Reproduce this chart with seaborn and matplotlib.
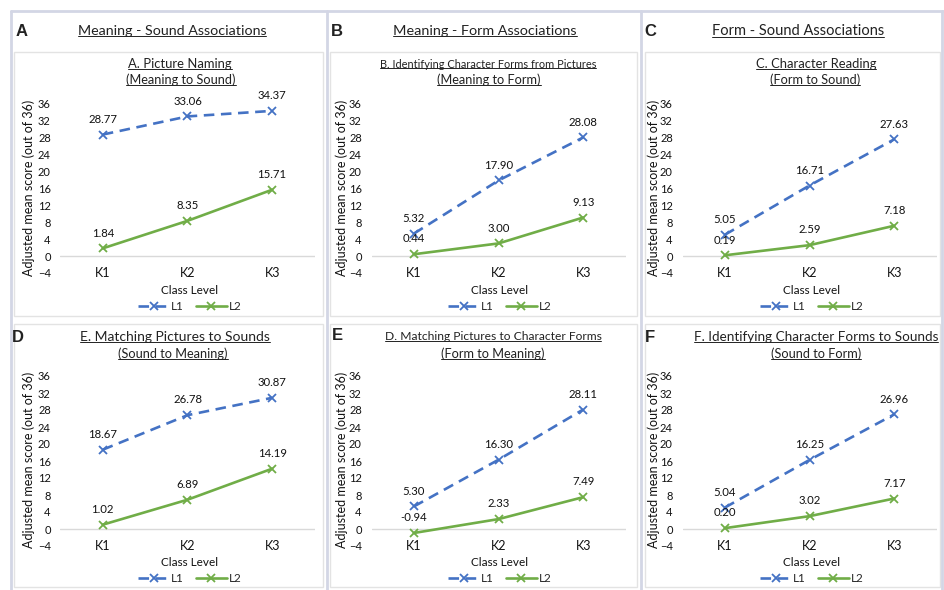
import matplotlib
matplotlib.use('Agg')
import matplotlib.pyplot as plt
from matplotlib.lines import Line2D
from matplotlib.patches import Rectangle
import pandas as pd
import seaborn as sns

sns.set_style('white')
plt.rcParams['font.family'] = ['Lato', 'DejaVu Sans']

# Daten aus der Abbildung
levels = ['K1', 'K2', 'K3']
groups = ['L1', 'L2']

col_headers = ['Meaning - Sound Associations', 'Meaning - Form Associations', 'Form - Sound Associations']
panel_letters = ['A', 'B', 'C', 'D', 'E', 'F']
panel_titles = [
    ('A. Picture Naming', '(Meaning to Sound)'),
    ('B. Identifying Character Forms from Pictures', '(Meaning to Form)'),
    ('C. Character Reading', '(Form to Sound)'),
    ('E. Matching Pictures to Sounds', '(Sound to Meaning)'),
    ('D. Matching Pictures to Character Forms', '(Form to Meaning)'),
    ('F. Identifying Character Forms to Sounds', '(Sound to Form)'),
]

l1_scores = [
    [28.77, 33.06, 34.37],
    [5.32, 17.90, 28.08],
    [5.05, 16.71, 27.63],
    [18.67, 26.78, 30.87],
    [5.30, 16.30, 28.11],
    [5.04, 16.25, 26.96],
]
l2_scores = [
    [1.84, 8.35, 15.71],
    [0.44, 3.00, 9.13],
    [0.19, 2.59, 7.18],
    [1.02, 6.89, 14.19],
    [-0.94, 2.33, 7.49],
    [0.20, 3.02, 7.17],
]

yticks = [-4, 0, 4, 8, 12, 16, 20, 24, 28, 32, 36]

blue = '#4472C4'
green = '#70AD47'
palette = {'L1': blue, 'L2': green}

W, H = 944, 590
fig = plt.figure(figsize=(W / 100, H / 100), dpi=100)
renderer = fig.canvas.get_renderer()


def fx(x):
    return x / W


def fy(y):
    return 1 - y / H


def fit(t, width):
    # Schriftgröße an die Breite im Original anpassen
    bb = t.get_window_extent(renderer)
    t.set_fontsize(t.get_fontsize() * width / bb.width)


# Rahmen
grid_col = '#D3D6E5'
for x in [11, 327, 641, 942]:
    fig.add_artist(Line2D([fx(x), fx(x)], [fy(11), fy(590)], color=grid_col, lw=2))
fig.add_artist(Line2D([fx(11), fx(944)], [fy(11), fy(11)], color=grid_col, lw=2))

box_x = [(14, 323), (330, 637), (645, 940)]
box_y = [(52, 316), (324, 587)]
for (x0, x1) in box_x:
    for (y0, y1) in box_y:
        fig.add_artist(Rectangle((fx(x0), fy(y1)), fx(x1 - x0), (y1 - y0) / H,
                                 fill=False, ec='#E3E3E3', lw=1))

underlined = []

# Spaltenüberschriften
header_x = [172, 485, 798]
header_w = [191, 186, 172]
for c in range(3):
    t = fig.text(fx(header_x[c]), fy(31), col_headers[c], ha='center', va='center',
                 fontsize=10.5, color='#222222')
    fit(t, header_w[c])
    underlined.append(t)

letter_pos = [(22, 31), (337, 31), (650, 31), (18, 337), (337, 336), (650, 337)]
for i, (lx, ly) in enumerate(letter_pos):
    fig.text(fx(lx), fy(ly), panel_letters[i], ha='center', va='center',
             fontsize=12, fontweight='bold', family='Liberation Sans', color='#222222')

title_x = [(180, 181), (488, 489), (816, 815), (175, 173), (493, 493), (816, 816)]
title_w = [104, 217, 121, 190, 216, 243]
col_off = [0, 311, 622]
row_top = [104, 376]
row_bot = [273, 546]
title_y = [(64, 80), (337, 354)]
ylab_x = [29, 342, 654]
center_x = [190, 500, 812]
class_y = [291, 563]
legend_y = [307, 579]

for p in range(6):
    r, c = divmod(p, 3)
    left = 60.5 + col_off[c]
    right = 314.5 + col_off[c]
    ax = fig.add_axes([fx(left), fy(row_bot[r]), (right - left) / W, (row_bot[r] - row_top[r]) / H])

    df = pd.DataFrame({
        'level': levels * 2,
        'score': l1_scores[p] + l2_scores[p],
        'group': ['L1'] * 3 + ['L2'] * 3,
    })
    ax.axhline(0, color='#D9D9D9', lw=1, zorder=0)
    sns.lineplot(data=df, x='level', y='score', hue='group', style='group',
                 palette=palette, dashes={'L1': (4, 2.5), 'L2': ''},
                 markers={'L1': 'x', 'L2': 'x'}, markersize=6, markeredgewidth=1.3,
                 lw=1.9, legend=False, ax=ax)
    for ln in ax.lines[1:]:
        ln.set_markeredgecolor(ln.get_color())

    for vals in (l1_scores[p], l2_scores[p]):
        for i, v in enumerate(vals):
            ax.annotate(f'{v:.2f}', (i, v), xytext=(0, 11), textcoords='offset points',
                        ha='center', va='center', fontsize=8.2, color='#111111')

    ax.set_ylim(-4, 36)
    ax.set_xlim(-0.5, 2.5)
    ax.set_yticks(yticks)
    ax.set_xticks(range(len(levels)))
    ax.set_xticklabels(levels)
    ax.set_xlabel('')
    ax.set_ylabel('')
    ax.tick_params(axis='y', length=0, pad=7, labelsize=8, labelcolor='#111111')
    ax.tick_params(axis='x', length=0, pad=-4.5, labelsize=9, labelcolor='#111111')
    for s in ax.spines.values():
        s.set_visible(False)
    ax.patch.set_alpha(0)

    t = fig.text(fx(title_x[p][0]), fy(title_y[r][0]), panel_titles[p][0],
                 ha='center', va='center', fontsize=9, color='#222222')
    fit(t, title_w[p])
    underlined.append(t)
    t = fig.text(fx(title_x[p][1]), fy(title_y[r][1]), panel_titles[p][1],
                 ha='center', va='center', fontsize=9.2, color='#222222')
    underlined.append(t)

    fig.text(fx(ylab_x[c]), fy(188 + 272 * r), 'Adjusted mean score (out of 36)',
             rotation=90, ha='center', va='center', fontsize=9, color='#111111')
    fig.text(fx(center_x[c]), fy(class_y[r]), 'Class Level', ha='center', va='center',
             fontsize=8.5, color='#111111')

    handles = [Line2D([], [], color=blue, lw=1.9, ls=(0, (4, 2.5)), marker='x', ms=6, mew=1.3),
               Line2D([], [], color=green, lw=1.9, marker='x', ms=6, mew=1.3)]
    fig.legend(handles, groups, loc='center', ncol=2, frameon=False, fontsize=8.5,
               bbox_to_anchor=(fx(center_x[c]), fy(legend_y[r])), handlelength=2.6,
               columnspacing=1.0, handletextpad=0.2, borderpad=0)

# Unterstreichungen
fig.canvas.draw()
for t in underlined:
    bb = t.get_window_extent(renderer)
    yy = (bb.y0 + 1.5) / H
    fig.add_artist(Line2D([bb.x0 / W, bb.x1 / W], [yy, yy], color='#222222', lw=0.7))

fig.savefig('out.png', dpi=100)
